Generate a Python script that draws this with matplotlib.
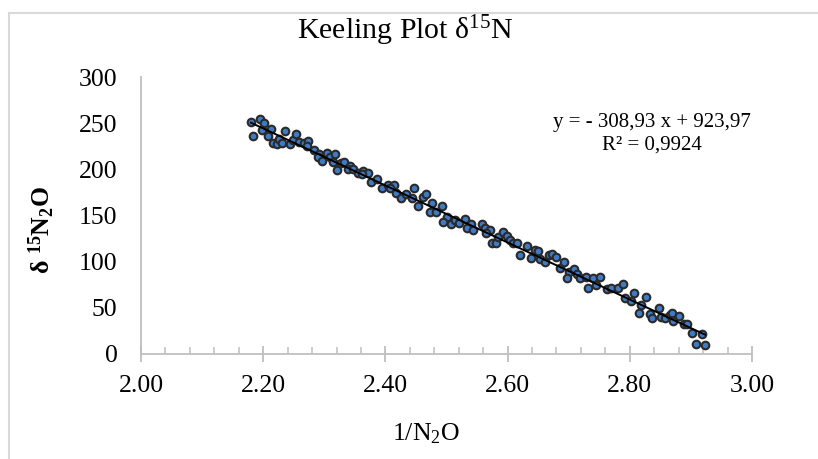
import numpy as np
import matplotlib
matplotlib.use('Agg')
import matplotlib.pyplot as plt
from matplotlib.ticker import MultipleLocator, FormatStrFormatter
from matplotlib.lines import Line2D

plt.rcParams['font.family'] = ['Liberation Serif', 'DejaVu Serif']
plt.rcParams['mathtext.fontset'] = 'custom'
plt.rcParams['mathtext.rm'] = 'Liberation Serif'
plt.rcParams['mathtext.it'] = 'Liberation Serif:italic'
plt.rcParams['mathtext.bf'] = 'Liberation Serif:bold'

# values
inv_n2o = [2.180, 2.184, 2.195, 2.201, 2.198, 2.212, 2.208, 2.235, 2.216, 2.222,
           2.226, 2.231, 2.244, 2.248, 2.253, 2.259, 2.267, 2.274, 2.271, 2.283,
           2.292, 2.289, 2.297, 2.305, 2.309, 2.318, 2.314, 2.321, 2.327, 2.333,
           2.342, 2.338, 2.347, 2.355, 2.364, 2.372, 2.361, 2.376, 2.387, 2.394,
           2.404, 2.414, 2.408, 2.418, 2.426, 2.434, 2.447, 2.443, 2.454, 2.461,
           2.466, 2.476, 2.473, 2.483, 2.492, 2.501, 2.495, 2.507, 2.514, 2.521,
           2.530, 2.540, 2.534, 2.543, 2.558, 2.563, 2.571, 2.565, 2.574, 2.581,
           2.585, 2.592, 2.599, 2.604, 2.609, 2.616, 2.631, 2.620, 2.638, 2.645,
           2.650, 2.653, 2.661, 2.667, 2.672, 2.680, 2.686, 2.693, 2.701, 2.708,
           2.714, 2.698, 2.718, 2.728, 2.739, 2.732, 2.745, 2.752, 2.762, 2.770,
           2.781, 2.789, 2.792, 2.802, 2.807, 2.818, 2.826, 2.815, 2.833, 2.837,
           2.847, 2.851, 2.858, 2.865, 2.869, 2.870, 2.881, 2.888, 2.893, 2.901,
           2.918, 2.908, 2.923]
d15n = [251.7, 236.2, 254.3, 249.9, 242.7, 243.8, 236.5, 241.6, 228.9, 227.2,
        233.3, 228.3, 227.2, 231.9, 238.0, 229.4, 228.9, 231.1, 225.7, 221.0,
        216.4, 213.1, 209.1, 217.4, 213.8, 216.4, 208.3, 199.3, 207.3, 208.0,
        203.7, 200.1, 200.1, 196.4, 198.6, 195.8, 194.7, 186.0, 189.3, 179.5,
        183.1, 183.1, 180.2, 174.1, 168.7, 173.3, 179.5, 168.7, 160.3, 170.4,
        173.0, 163.3, 153.8, 154.2, 160.7, 148.8, 142.7, 140.5, 145.2, 141.6,
        146.3, 141.2, 136.2, 134.3, 140.8, 136.8, 134.3, 130.8, 120.6, 119.9,
        127.1, 132.5, 128.2, 123.2, 119.9, 119.9, 117.0, 107.3, 104.3, 112.7,
        111.9, 102.6, 99.3, 107.3, 108.7, 105.4, 92.8, 99.3, 88.5, 91.8,
        86.7, 82.0, 82.0, 83.7, 82.0, 71.2, 74.8, 83.7, 70.4, 71.2,
        71.2, 75.8, 60.3, 57.4, 65.8, 53.1, 62.1, 44.1, 43.3, 39.3,
        49.5, 40.4, 38.7, 42.3, 44.1, 35.8, 41.5, 32.2, 32.2, 23.1,
        21.3, 10.8, 9.8]

slope = -308.93
intercept = 923.97
r2 = 0.9924

x_ticks = [2.00, 2.20, 2.40, 2.60, 2.80, 3.00]
y_ticks = [0, 50, 100, 150, 200, 250, 300]


def main():
    fig = plt.figure(figsize=(8.18, 4.59), dpi=100)
    ax = fig.add_axes([0.1724, 0.2288, 0.7469, 0.6034])

    ax.scatter(inv_n2o, d15n, s=30, c='#3F7BC4', edgecolors='#2A2A2A',
               linewidths=1.5, zorder=3)

    # linear trendline over the data range
    xs = np.array([min(inv_n2o), max(inv_n2o)])
    ax.plot(xs, slope * xs + intercept, color='black', lw=1.4, zorder=4)

    ax.set_xlim(2.0, 3.0)
    ax.set_ylim(0, 300)
    ax.set_xticks(x_ticks)
    ax.set_yticks(y_ticks)
    ax.xaxis.set_major_formatter(FormatStrFormatter('%.2f'))
    ax.xaxis.set_minor_locator(MultipleLocator(0.04))

    for s in ['top', 'right']:
        ax.spines[s].set_visible(False)
    for s in ['left', 'bottom']:
        ax.spines[s].set_color('#BFBFBF')
        ax.spines[s].set_linewidth(1.3)

    ax.tick_params(axis='x', which='major', direction='inout', length=12,
                   width=1.3, color='#BFBFBF', labelsize=18.5, pad=9)
    ax.tick_params(axis='x', which='minor', direction='in', length=5,
                   width=1.1, color='#BFBFBF')
    ax.tick_params(axis='y', length=0, labelsize=18.5, pad=17)

    ax.set_xlabel('1/N$_2$O', fontsize=18.5)
    ax.xaxis.set_label_coords(0.466, -0.242)
    ax.set_ylabel(r'δ $\mathbf{{}^{15}N_{2}O}$', fontsize=18.5,
                  fontweight='bold')
    ax.yaxis.set_label_coords(-0.138, 0.448)

    fig.text(0.495, 0.932, r'Keeling Plot δ$^{15}$N', ha='center',
             va='center', fontsize=21.5)

    eq = 'y = - {:.2f} x + {:.2f}'.format(-slope, intercept).replace('.', ',')
    fig.text(0.797, 0.734, eq, ha='center', va='center', fontsize=15)
    fig.text(0.797, 0.685, 'R² = {:.4f}'.format(r2).replace('.', ','),
             ha='center', va='center', fontsize=15)

    # light chart frame
    fig.add_artist(Line2D([0.011, 0.011], [0, 0.972], color='#D9D9D9', lw=1.5))
    fig.add_artist(Line2D([0.011, 1.0], [0.972, 0.972], color='#D9D9D9', lw=1.5))

    fig.savefig('out.png', dpi=100)


if __name__ == '__main__':
    main()
